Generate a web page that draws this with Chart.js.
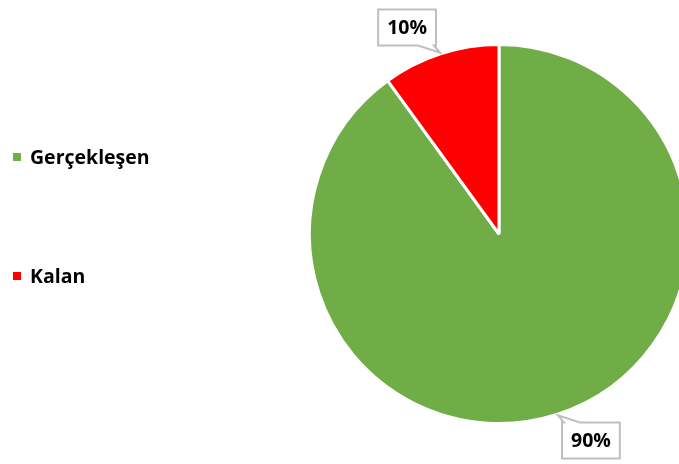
<!DOCTYPE html>
<html>
<head>
<meta charset="utf-8">
<script src="https://cdn.jsdelivr.net/npm/chart.js@4.4.0/dist/chart.umd.min.js"></script>
<style>
  body { margin: 0; background: #fff; }
  #wrap { width: 679px; height: 464px; overflow: hidden; position: relative; }
</style>
</head>
<body>
<div id="wrap"><canvas id="myChart" width="720" height="464"></canvas></div>
<script>
let categories = ["Gerçekleşen", "Kalan"];
let values = [90, 10];
let colors = ["#70AD47", "#FF0000"];

let fontName = "'Open Sans', sans-serif";

// legend on the left, drawn on the canvas
const sideLegend = {
    id: "sideLegend",
    afterDraw(chart) {
        let ctx = chart.ctx;
        let rows = [157, 276];
        ctx.save();
        ctx.font = "bold 19.5px " + fontName;
        ctx.textBaseline = "middle";
        categories.forEach((name, i) => {
            ctx.fillStyle = colors[i];
            ctx.fillRect(13, rows[i] - 4, 8, 8);
            ctx.fillStyle = "#000";
            ctx.fillText(name, 30, rows[i] + 1);
        });
        ctx.restore();
    }
};

// percentage labels in callout boxes
const calloutLabels = {
    id: "calloutLabels",
    afterDraw(chart) {
        let ctx = chart.ctx;
        let meta = chart.getDatasetMeta(0);
        let total = values.reduce((a, b) => a + b, 0);
        ctx.save();
        ctx.font = "bold 19.5px " + fontName;
        meta.data.forEach((arc, i) => {
            let p = arc.getProps(["x", "y", "startAngle", "endAngle", "outerRadius"], true);
            let mid = (p.startAngle + p.endAngle) / 2;
            let tipX = p.x + Math.cos(mid) * (p.outerRadius + 1);
            let tipY = p.y + Math.sin(mid) * (p.outerRadius + 1);
            let la = mid - 6 * Math.PI / 180;
            let cx = p.x + Math.cos(la) * 226;
            let cy = p.y + Math.sin(la) * 226;
            let text = Math.round(values[i] / total * 100) + "%";
            let w = ctx.measureText(text).width + 18;
            let h = 36;
            let L = cx - w / 2, R = cx + w / 2, T = cy - h / 2, B = cy + h / 2;
            let b0 = Math.min(Math.max(tipX - 8, L + 2), R - 18);
            ctx.beginPath();
            if (tipY > B) {
                ctx.moveTo(L, T);
                ctx.lineTo(R, T);
                ctx.lineTo(R, B);
                ctx.lineTo(b0 + 16, B);
                ctx.lineTo(tipX, tipY);
                ctx.lineTo(b0, B);
                ctx.lineTo(L, B);
            } else {
                ctx.moveTo(L, B);
                ctx.lineTo(L, T);
                ctx.lineTo(b0, T);
                ctx.lineTo(tipX, tipY);
                ctx.lineTo(b0 + 16, T);
                ctx.lineTo(R, T);
                ctx.lineTo(R, B);
            }
            ctx.closePath();
            ctx.fillStyle = "#fff";
            ctx.fill();
            ctx.strokeStyle = "#BFBFBF";
            ctx.lineWidth = 2;
            ctx.stroke();
            ctx.fillStyle = "#000";
            ctx.textAlign = "center";
            ctx.textBaseline = "middle";
            ctx.fillText(text, cx, cy + 1);
        });
        ctx.restore();
    }
};

const ctx = document.getElementById("myChart");

new Chart(ctx, {
    type: "pie",
    data: {
        labels: categories,
        datasets: [{
            data: values,
            backgroundColor: colors,
            borderColor: "#fff",
            borderWidth: 3
        }]
    },
    options: {
        responsive: false,
        animation: false,
        layout: {
            padding: { left: 308, top: 43, right: 30, bottom: 39 }
        },
        plugins: {
            legend: { display: false },
            tooltip: { enabled: false }
        }
    },
    plugins: [sideLegend, calloutLabels]
});
</script>
</body>
</html>
